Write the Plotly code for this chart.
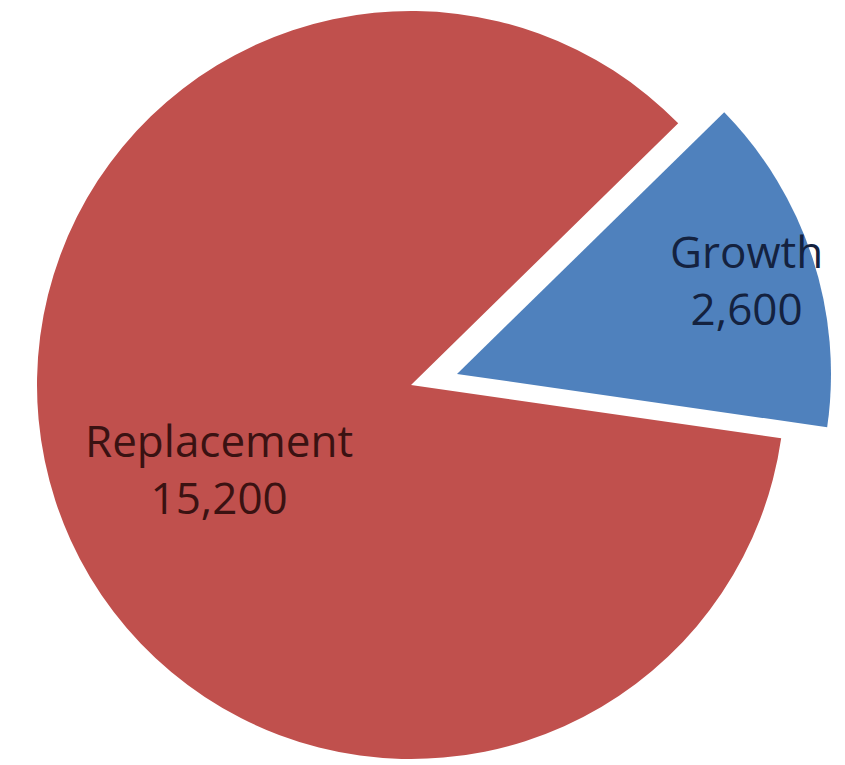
import plotly.graph_objects as go

# Data
labels = ["Growth", "Replacement"]
values = [2600, 15200]
colors = ["#4F81BD", "#C0504D"]
text_colors = ["#14223F", "#3A1212"]

W, H = 845, 765
R = 374
# centers (pixels from top-left) of main pie and of the exploded slice
main_c = (411, 385)
pull_c = (457, 374)
label_pos = [(746, 279), (219, 468)]


def dom(c):
    cx, cy = c
    x0, x1 = (cx - R) / W, (cx + R) / W
    y0, y1 = (H - (cy + R)) / H, (H - (cy - R)) / H
    return dict(x=[max(0, x0), min(1, x1)], y=[max(0, y0), min(1, y1)])


fig = go.Figure()
# main pie: Replacement visible
fig.add_trace(go.Pie(
    labels=labels, values=values, sort=False, direction="clockwise",
    rotation=45.6, textinfo="none", hoverinfo="label+value",
    marker=dict(colors=["rgba(0,0,0,0)", colors[1]], line=dict(width=0)),
    domain=dom(main_c), showlegend=False,
))
# exploded slice: Growth visible
fig.add_trace(go.Pie(
    labels=labels, values=values, sort=False, direction="clockwise",
    rotation=45.6, textinfo="none", hoverinfo="label+value",
    marker=dict(colors=[colors[0], "rgba(0,0,0,0)"], line=dict(width=0)),
    domain=dom(pull_c), showlegend=False,
))

for lab, val, (px, py), tc in zip(labels, values, label_pos, text_colors):
    fig.add_annotation(
        x=px / W, y=1 - py / H, xref="paper", yref="paper",
        text=f"{lab}<br>{val:,}", showarrow=False,
        xanchor="center", yanchor="middle", align="center",
        font=dict(family="Open Sans", size=44, color=tc),
    )

fig.update_layout(
    width=W, height=H, margin=dict(l=0, r=0, t=0, b=0),
    paper_bgcolor="white", plot_bgcolor="white", showlegend=False,
)
fig.write_html("out.html", config={"displayModeBar": False},
               post_script="document.body.style.margin='0';")
